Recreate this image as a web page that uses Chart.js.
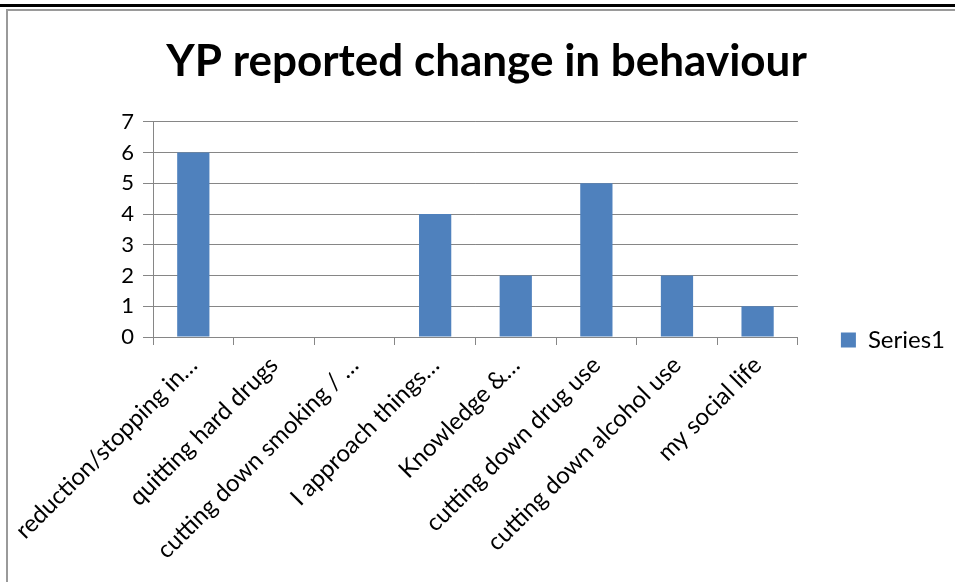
<!DOCTYPE html>
<html>
<head>
<meta charset="utf-8">
<script src="https://cdn.jsdelivr.net/npm/chart.js@4"></script>
<style>
  body { margin: 0; background: #fff; overflow: hidden; }
  #topline { position: absolute; left: 0; top: 4px; width: 955px; height: 3px; background: #000; }
  #frame { position: absolute; left: 6px; top: 9px; width: 960px; height: 700px; border-left: 2px solid #9a9a9a; border-top: 2px solid #9a9a9a; }
  #wrap { position: absolute; left: 8px; top: 11px; width: 947px; height: 658px; }
</style>
</head>
<body>
<div id="topline"></div>
<div id="frame"></div>
<div id="wrap"><canvas id="chart"></canvas></div>
<script>
// chart data
const categories = [
    'reduction/stopping in…',
    'quitting hard drugs',
    'cutting down smoking / …',
    'I approach things…',
    'Knowledge &…',
    'cutting down drug use',
    'cutting down alcohol use',
    'my social life'
];
const series1 = [6, 0, 0, 4, 2, 5, 2, 1];
const yTicks = [0, 1, 2, 3, 4, 5, 6, 7];

const font = 'Lato, Carlito, Calibri, sans-serif';
const gridColor = '#868686';

const ctx = document.getElementById('chart').getContext('2d');
const chart = new Chart(ctx, {
    type: 'bar',
    data: {
        labels: categories,
        datasets: [{
            label: 'Series1',
            data: series1,
            backgroundColor: '#4F81BD',
            borderWidth: 0,
            barPercentage: 0.4,
            categoryPercentage: 1.0
        }]
    },
    options: {
        responsive: true,
        maintainAspectRatio: false,
        animation: false,
        layout: { padding: { left: 10, right: 0, top: 0, bottom: 0 } },
        plugins: {
            title: {
                display: true,
                text: 'YP reported change in behaviour',
                color: '#000',
                font: { family: font, size: 44, weight: 'bold' },
                padding: { top: 24, bottom: 34 }
            },
            legend: {
                position: 'right',
                labels: {
                    color: '#000',
                    font: { family: font, size: 24 },
                    boxWidth: 15,
                    boxHeight: 15,
                    padding: 43
                }
            },
            tooltip: { enabled: false }
        },
        scales: {
            x: {
                afterFit: function(scale) {
                    // keep the plot box fixed, labels may hang outside it
                    scale.height = 332;
                    scale.paddingLeft = 0;
                    scale.paddingRight = 0;
                },
                grid: {
                    offset: true,
                    drawOnChartArea: false,
                    drawTicks: true,
                    tickLength: 8,
                    color: gridColor
                },
                border: { color: gridColor },
                ticks: {
                    color: '#000',
                    font: { family: font, size: 24 },
                    maxRotation: 45,
                    minRotation: 45,
                    autoSkip: false,
                    padding: 6
                }
            },
            y: {
                min: 0,
                max: 7,
                afterFit: function(scale) { scale.width = 135; },
                afterBuildTicks: function(scale) {
                    scale.ticks = yTicks.map(function(v) { return { value: v }; });
                },
                grid: {
                    color: gridColor,
                    tickLength: 10
                },
                border: { color: gridColor },
                ticks: {
                    color: '#000',
                    font: { family: font, size: 22 },
                    padding: 9
                }
            }
        }
    }
});
</script>
</body>
</html>
